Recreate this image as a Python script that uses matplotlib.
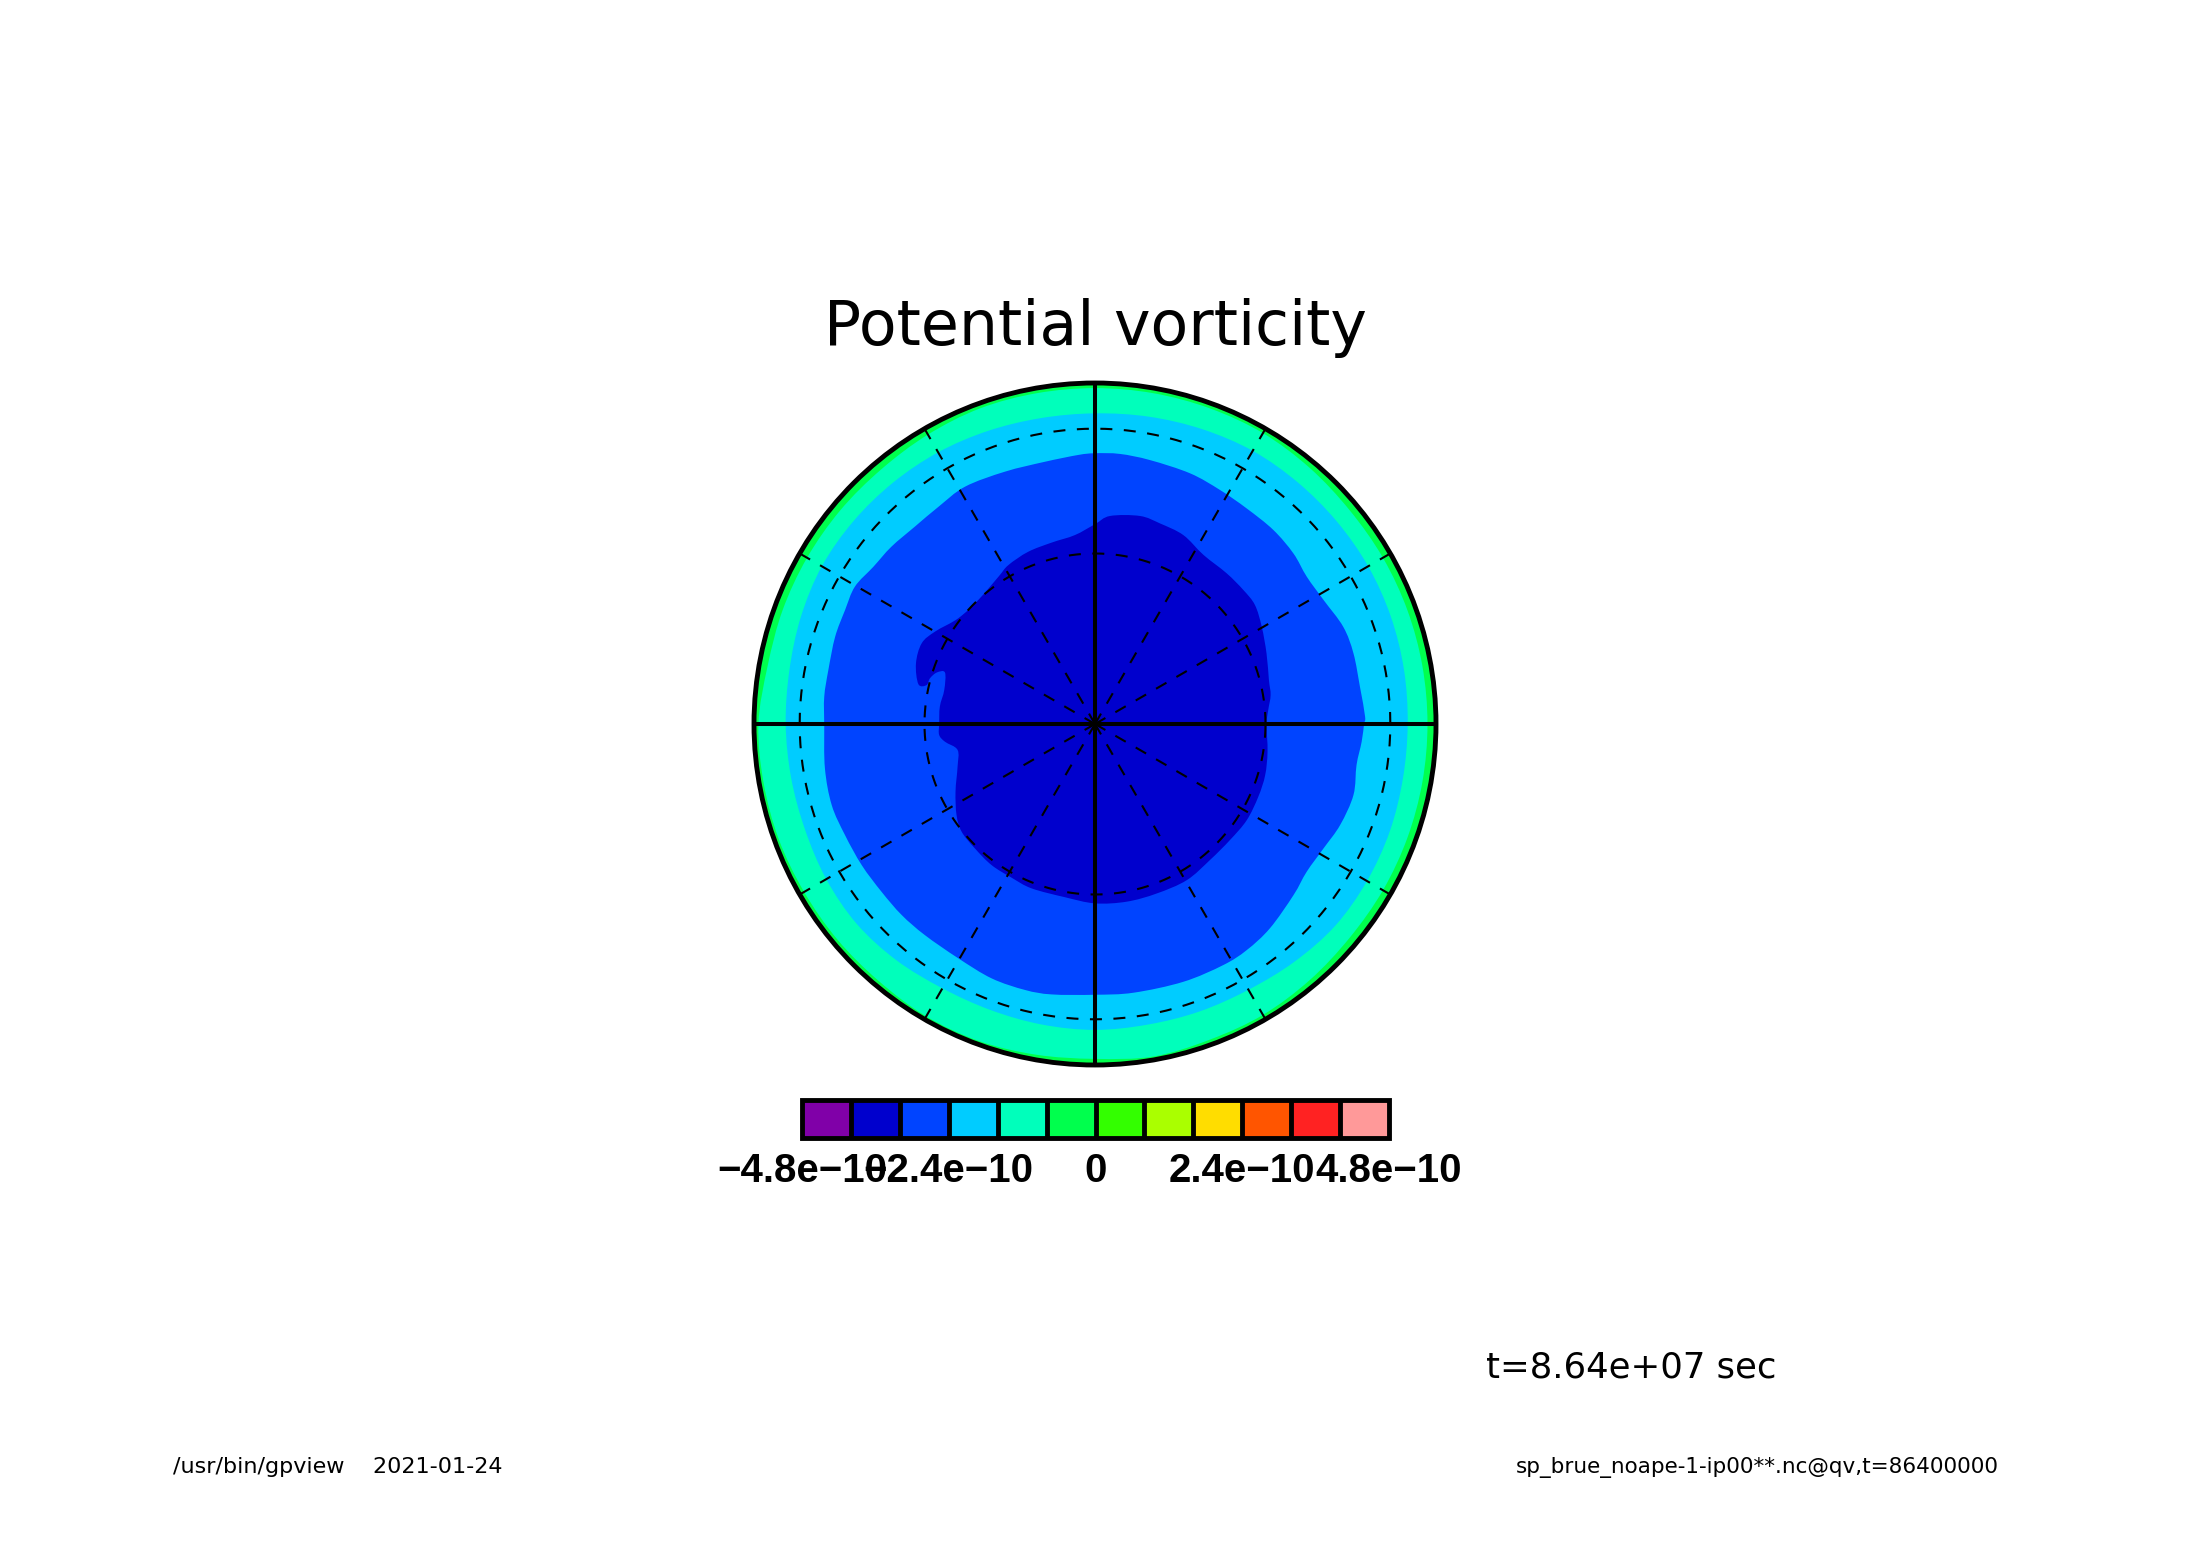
import numpy as np
import matplotlib
matplotlib.use("Agg")
import matplotlib.pyplot as plt
from matplotlib.cm import ScalarMappable
from matplotlib.colors import BoundaryNorm, ListedColormap
from matplotlib.patches import Circle, PathPatch
from matplotlib.path import Path

W, H = 2188, 1546

# colour classes of the field
levels = np.arange(-4.8e-10, 4.81e-10, 0.8e-10)
colors = ["#8000a8", "#0000cd", "#0044ff", "#00ccff", "#00ffbb", "#00ff4d",
          "#33ff00", "#aaff00", "#ffdd00", "#ff5500", "#ff2222", "#ff9999"]
tick_values = [-4.8e-10, -2.4e-10, 0, 2.4e-10, 4.8e-10]
tick_labels = ["\u22124.8e\u221210", "\u22122.4e\u221210", "0", "2.4e\u221210", "4.8e\u221210"]

# outer contours, radius on the map against longitude
band_lon = np.arange(0, 360, 10)
aqua_r = [.917, .920, .923, .925, .925, .925, .925, .920, .915, .911, .911, .915,
          .920, .923, .925, .925, .918, .910, .907, .905, .905, .910, .912, .905,
          .895, .893, .895, .897, .895, .897, .900, .910, .920, .921, .920, .917]
green_r = [.975, .975, .975, .975, .975, .980, .985, .985, .985, .985, .985, .985,
           .980, .975, .975, .975, .975, .975, .987, .987, .987, .985, .985, .985,
           .990, .990, .985, .982, .990, .985, .985, .980, .975, .975, .975, .975]

# inner contours, map coordinates (disc radius = 1)
blue_x = [0, .073, .161, .279, .367, .445, .523, .582, .621, .670, .728, .758, .777, .792, .789,
          .782, .767, .758, .719, .670, .621, .582, .513, .445, .376, .259, .113, 0,
          -.127, -.205, -.303, -.401, -.499, -.567, -.626, -.684, -.733, -.772, -.792, -.794,
          -.794, -.782, -.762, -.733, -.704, -.650, -.597, -.528, -.459, -.381, -.264, -.147, -.049]
blue_y = [.794, .792, .774, .735, .686, .632, .569, .500, .432, .364, .285, .207, .109, .022, 0,
          -.052, -.120, -.208, -.296, -.365, -.433, -.502, -.599, -.663, -.707, -.756, -.788, -.794,
          -.793, -.780, -.746, -.687, -.619, -.560, -.492, -.414, -.326, -.238, -.130, -.003,
          .080, .158, .256, .334, .403, .461, .520, .579, .637, .696, .740, .769, .789]
dark_x = [0, .044, .132, .191, .259, .318, .386, .435, .469, .489, .503, .510, .515, .508, .503,
          .506, .499, .479, .445, .396, .337, .269, .181, .093, 0,
          -.088, -.186, -.244, -.303, -.352, -.391, -.406, -.409, -.403, -.403, -.440, -.457,
          -.457, -.455, -.442, -.440, -.464, -.484, -.494, -.518, -.525, -.508, -.469,
          -.401, -.342, -.283, -.254, -.196, -.127, -.059]
dark_y = [.586, .610, .610, .588, .554, .496, .442, .393, .349, .285, .207, .129, .085, .041, 0,
          -.081, -.150, -.213, -.282, -.340, -.399, -.458, -.497, -.521, -.526,
          -.508, -.482, -.451, -.414, -.365, -.316, -.267, -.198, -.125, -.076, -.052, -.032,
          0, .051, .100, .151, .151, .134, .114, .117, .178, .237, .271,
          .310, .364, .432, .466, .505, .532, .554]

# graticule
lat_circles = [30, 60]
meridians = np.arange(0, 360, 30)


def px_axes(fig, x0, y0, x1, y1):
    return fig.add_axes([x0 / W, 1 - y1 / H, (x1 - x0) / W, (y1 - y0) / H])


def contour_patch(ax, x, y, color, zorder):
    # closed bezier through the contour points
    p = np.column_stack([x, y])
    tang = (np.roll(p, -1, axis=0) - np.roll(p, 1, axis=0)) / 6
    verts = [p[0]]
    codes = [Path.MOVETO]
    for i in range(len(p)):
        j = (i + 1) % len(p)
        verts += [p[i] + tang[i], p[j] - tang[j], p[j]]
        codes += [Path.CURVE4] * 3
    ax.add_patch(PathPatch(Path(verts, codes), fc=color, lw=0, zorder=zorder))


def band_patch(ax, radius, color, zorder):
    lon = np.deg2rad(band_lon)
    r = np.array(radius)
    contour_patch(ax, r * np.cos(lon), r * np.sin(lon), color, zorder)


fig = plt.figure(figsize=(W / 100, H / 100), dpi=100, facecolor="white")

cx, cy, R = 1095, 724, 341
ax = px_axes(fig, cx - R, cy - R, cx + R, cy + R)
ax.set_xlim(-1, 1)
ax.set_ylim(-1, 1)
ax.axis("off")

ax.add_patch(Circle((0, 0), 1, color=colors[5], lw=0, zorder=1))
band_patch(ax, green_r, colors[4], 2)
band_patch(ax, aqua_r, colors[3], 3)
contour_patch(ax, blue_x, blue_y, colors[2], 4)
contour_patch(ax, dark_x, dark_y, colors[1], 5)

dash = (0, (5.76, 5.52))
t = np.linspace(0, 2 * np.pi, 361)
for lat in lat_circles:
    r = np.cos(np.deg2rad(lat))
    ax.plot(r * np.cos(t), r * np.sin(t), color="k", lw=1.5, ls=dash, zorder=6)
for lon in meridians:
    a = np.deg2rad(lon)
    solid = lon % 90 == 0
    ax.plot([0, np.cos(a)], [0, np.sin(a)], color="k", lw=2.9 if solid else 1.5,
            ls="-" if solid else dash, zorder=7 if solid else 6,
            solid_capstyle="butt", dash_capstyle="butt")
ax.add_patch(Circle((0, 0), 1, fill=False, ec="k", lw=3.5, zorder=8, clip_on=False))

cax = px_axes(fig, 802, 1100, 1389, 1138)
sm = ScalarMappable(norm=BoundaryNorm(levels, len(colors)), cmap=ListedColormap(colors))
cb = fig.colorbar(sm, cax=cax, orientation="horizontal", drawedges=True, ticks=tick_values)
cb.outline.set_linewidth(3.5)
cb.dividers.set_linewidth(3.5)
cb.ax.minorticks_off()
cb.ax.tick_params(length=0, pad=10)
cb.ax.set_xticklabels(tick_labels, fontfamily="Liberation Sans", fontweight="bold", fontsize=29)

fig.text(1095 / W, 1 - 345 / H, "Potential vorticity", fontsize=44.5, ha="center", va="baseline")
fig.text(1485.5 / W, 1 - 1378 / H, "t=8.64e+07 sec", fontsize=25.6, ha="left", va="baseline")
fig.text(173 / W, 1 - 1473 / H, "/usr/bin/gpview    2021-01-24", fontsize=16, ha="left", va="baseline")
fig.text(1999 / W, 1 - 1473 / H, "sp_brue_noape-1-ip00**.nc@qv,t=86400000", fontsize=15.45, ha="right", va="baseline")

fig.savefig("out.png", dpi=100)
